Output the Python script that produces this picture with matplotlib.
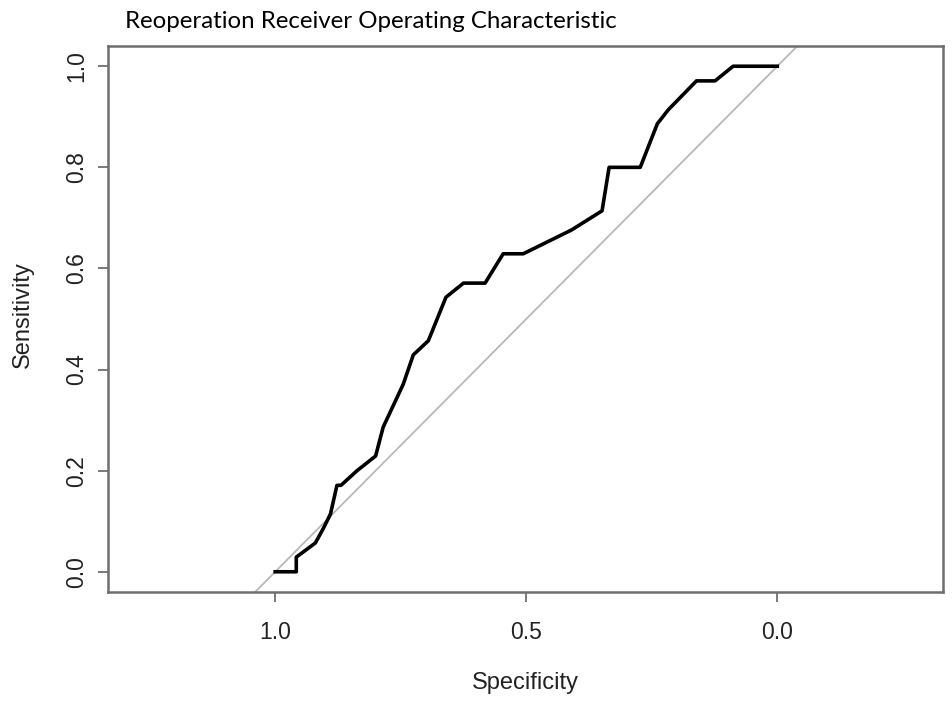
import numpy as np
import matplotlib
matplotlib.use("Agg")
import matplotlib.pyplot as plt

# ROC curve points (specificity, sensitivity)
specificity = [1.0, 0.958, 0.958, 0.92, 0.904, 0.89, 0.877, 0.869, 0.837, 0.80,
               0.785, 0.745, 0.725, 0.695, 0.66, 0.625, 0.582, 0.546, 0.506,
               0.41, 0.349, 0.335, 0.273, 0.239, 0.217, 0.161, 0.124, 0.088, 0.0]
sensitivity = [0.0, 0.0, 0.029, 0.057, 0.086, 0.114, 0.171, 0.171, 0.2, 0.229,
               0.286, 0.371, 0.429, 0.457, 0.543, 0.571, 0.571, 0.629, 0.629,
               0.676, 0.714, 0.8, 0.8, 0.886, 0.914, 0.971, 0.971, 1.0, 1.0]

xticks = [1.0, 0.5, 0.0]
yticks = [0.0, 0.2, 0.4, 0.6, 0.8, 1.0]

fig = plt.figure(figsize=(9.52, 7.03), dpi=100)
ax = fig.add_axes([108/952, 1 - 592/703, (943-108)/952, (592-46)/703])

# diagonal reference line
ax.plot([1.5, -0.5], [-0.5, 1.5], color="#b8b8b8", lw=1.3)
ax.plot(specificity, sensitivity, color="black", lw=2.6, solid_joinstyle="round")

ax.set_xlim(1.333, -0.33)
ax.set_ylim(-0.04, 1.04)
ax.set_xticks(xticks)
ax.set_xticklabels(["1.0", "0.5", "0.0"])
ax.set_yticks(yticks)
ax.set_yticklabels(["0.0", "0.2", "0.4", "0.6", "0.8", "1.0"], rotation=90, va="center")

for s in ax.spines.values():
    s.set_color("#6e6e6e")
    s.set_linewidth(1.8)
ax.tick_params(colors="#6e6e6e", length=7, width=1.3, labelcolor="#222222",
               labelsize=16.5)
ax.tick_params(axis="x", pad=14)
ax.tick_params(axis="y", pad=7)
for lab in ax.get_xticklabels() + ax.get_yticklabels():
    lab.set_family("Liberation Sans")

fig.text(525/952, 1 - 683/703, "Specificity", fontsize=17, family="Liberation Sans",
         color="#222222", ha="center", va="center")
fig.text(23/952, 1 - 315/703, "Sensitivity", fontsize=17, family="Liberation Sans",
         color="#222222", ha="center", va="center", rotation=90)

fig.text(125/952, 1 - 22/703, "Reoperation Receiver Operating Characteristic",
         fontsize=17.3, family="Lato", color="#000000", va="center", ha="left")

fig.savefig("out.png", dpi=100)
